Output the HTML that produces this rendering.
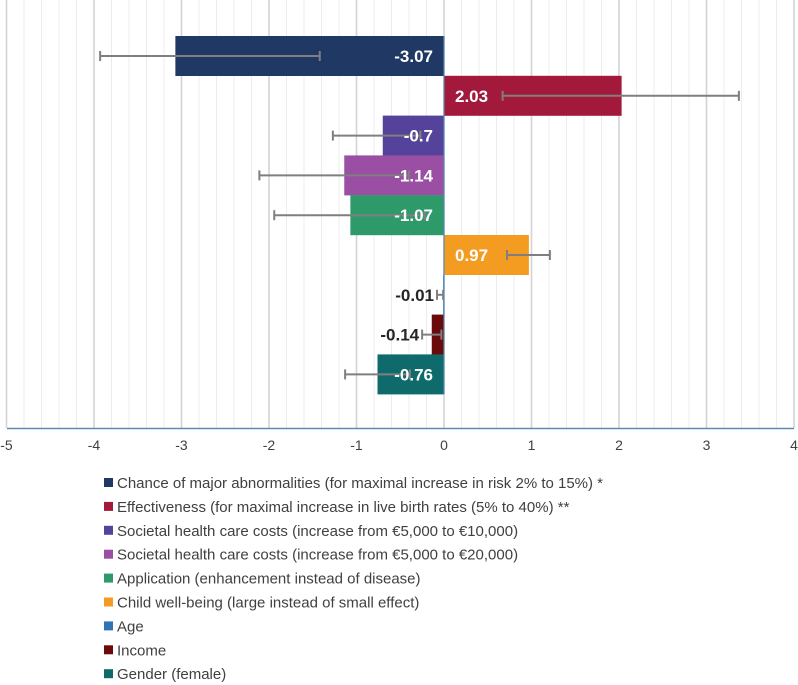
<!DOCTYPE html>
<html><head><meta charset="utf-8"><style>
body{margin:0;background:#fff;font-family:"Liberation Sans",sans-serif}
svg{display:block}
</style></head><body>
<svg id="c" width="798" height="685" xmlns="http://www.w3.org/2000/svg"></svg>
<script>
const categories=["Chance of major abnormalities (for maximal increase in risk 2% to 15%) *","Effectiveness (for maximal increase in live birth rates (5% to 40%) **","Societal health care costs (increase from €5,000 to €10,000)","Societal health care costs (increase from €5,000 to €20,000)","Application (enhancement instead of disease)","Child well-being (large instead of small effect)","Age","Income","Gender (female)"];
const values=[-3.07,2.03,-0.7,-1.14,-1.07,0.97,-0.01,-0.14,-0.76];
const errLow=[-3.93,0.67,-1.27,-2.11,-1.94,0.72,-0.08,-0.25,-1.13];
const errHigh=[-1.42,3.37,-0.27,-0.4,-0.22,1.21,-0.01,-0.03,-0.39];
const colors=["#203864","#a3193c","#55439b","#9a4fa5","#2e9a6a","#f49b21","#2e75b6","#6b0a0a","#0f6b6b"];
const ticks=[-5,-4,-3,-2,-1,0,1,2,3,4];
const NS="http://www.w3.org/2000/svg",svg=document.getElementById('c');
const xs=v=>444+v*87.5, rowY=i=>36+i*39.8, bh=40;
function mk(t,a,p){const e=document.createElementNS(NS,t);for(const k in a)e.setAttribute(k,a[k]);(p||svg).appendChild(e);return e;}
for(let v=-5;v<=4.001;v+=0.2){const r=Math.round(v*5)/5;const major=Math.abs(r-Math.round(r))<1e-6;
 const g=mk('line',{x1:xs(r),x2:xs(r),y1:0,y2:428,stroke:major?'#d4d4d4':'#ececec','stroke-width':major?1.6:1});
 
 }
ticks.forEach(t=>{const e=mk('text',{x:xs(t),y:450,'text-anchor':'middle','font-size':14,fill:'#404040'});e.textContent=t;
 
 });
values.forEach((v,i)=>{const y=rowY(i);
 const r=mk('rect',{x:Math.min(xs(0),xs(v)),y:y,width:Math.abs(xs(v)-xs(0)),height:bh,fill:colors[i]});
 
 
 const cy=y+bh/2,g=mk('g',{stroke:'#7f7f7f','stroke-width':2});
 
 
 mk('line',{x1:xs(errLow[i]),x2:xs(errHigh[i]),y1:cy,y2:cy},g);
 mk('line',{x1:xs(errLow[i]),x2:xs(errLow[i]),y1:cy-5,y2:cy+5},g);
 mk('line',{x1:xs(errHigh[i]),x2:xs(errHigh[i]),y1:cy-5,y2:cy+5},g);
 const inside=Math.abs(v)>0.3;let tx,anchor,fill;
 if(inside){fill='#fff';if(v<0){tx=xs(0)-11;anchor='end';}else{tx=xs(0)+11;anchor='start';}}
 else{fill='#262626';anchor='end';tx=Math.min(xs(v),xs(errLow[i]))-3;}
 const t=mk('text',{x:tx,y:cy+6,'text-anchor':anchor,'font-size':17,'font-weight':'bold',fill:fill});t.textContent=v;
 
 });
const ax=mk('line',{x1:7,x2:794,y1:428.5,y2:428.5,stroke:'#5b8bb5','stroke-width':1.5});


const z=mk('line',{x1:xs(0),x2:xs(0),y1:36,y2:394,stroke:'#5b8bb5','stroke-width':1.2});


categories.forEach((c,i)=>{const y=483+i*23.9;
 const g=mk('g',{});
 
 
 mk('rect',{x:104,y:y-5,width:9,height:9,fill:colors[i]},g);
 const t=mk('text',{x:117,y:y+5,'font-size':15,fill:'#404040'},g);t.textContent=c;});
</script>
</body></html>
